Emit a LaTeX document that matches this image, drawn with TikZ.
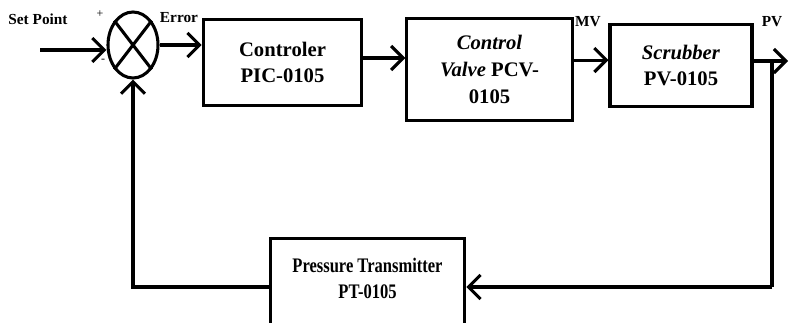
\documentclass[tikz,border=0pt]{standalone}
\usepackage{fontspec}
\setmainfont{Liberation Serif}
\newfontfamily\narrowserif[FakeStretch=0.8]{Liberation Serif}
\usetikzlibrary{arrows.meta,shapes.geometric}

\tikzset{
  blockbox/.style={draw, line width=2.3pt, align=center, inner sep=0pt,
    font=\fontsize{15.5}{20}\selectfont\bfseries},
  sumnode/.style={ellipse, draw, line width=2.3pt, inner sep=0pt,
    minimum width=37.5pt, minimum height=49.5pt},
  siglabel/.style={inner sep=0pt, font=\fontsize{11.5}{13}\selectfont\bfseries},
  signlabel/.style={inner sep=0pt, font=\fontsize{9}{10}\selectfont},
}

\begin{document}
\begin{tikzpicture}[x=0.75pt, y=-0.75pt, line width=2.3pt,
  >={Straight Barb[length=9pt,width=18pt]}]
  \clip (0,0) rectangle (790,322);
  % summing junction and blocks
  \node[sumnode] (sum) at (133,45) {};
  \node[blockbox, minimum width=119pt, minimum height=64pt] (ctrl) at (282.5,62.5) {Controler\\PIC-0105};
  \node[blockbox, minimum width=124pt, minimum height=76pt] (valve) at (489.5,69.5) {\textit{Control}\\\textit{Valve} PCV-\\0105};
  \node[blockbox, minimum width=106.5pt, minimum height=62pt] (scrub) at (681,65.5) {\textit{Scrubber}\\PV-0105};
  % lower edge of the transmitter box lies below the page
  \node[blockbox, minimum width=146pt, minimum height=67pt,
    font=\narrowserif\fontsize{15.5}{19.5}\selectfont\bfseries] (ptx) at (367.5,283.5)
    {Pressure Transmitter\\PT-0105\rule[-8.5pt]{0pt}{8.5pt}};
  \draw (sum.north west) -- (sum.south east) (sum.north east) -- (sum.south west);

  % signal labels
  \node[siglabel] (spl) at (38,19) {Set Point};
  \node[siglabel] (errl) at (179,18) {Error};
  \node[siglabel] (mvl) at (588,22) {MV};
  \node[siglabel] (pvl) at (772,22) {PV};
  \node[signlabel] (plus) at (100,14) {+};
  \node[signlabel] (minus) at (103,61) {-};

  \coordinate (sp) at (40,50);
  \coordinate (pv) at (788,61);
  \coordinate (tap) at (772,61);
  \coordinate (fb) at (772,287);

  % forward path
  \draw[->] (sp) -- (sp -| sum.west);
  \draw[->] (sum.east) -- (sum.east -| ctrl.west);
  \draw[->] ([yshift=3.4pt]ctrl.east) -- ([yshift=3.4pt]ctrl.east -| valve.west);
  \draw[->] ([yshift=7.1pt]valve.east) -- ([yshift=7.1pt]valve.east -| scrub.west);
  \draw[->] (scrub.east |- pv) -- (pv);
  % feedback path
  \draw (tap) -- (fb);
  \draw[->] (fb) -- (fb -| ptx.east);
  \draw[->] (fb -| ptx.west) -| (sum.south);
\end{tikzpicture}
\end{document}
